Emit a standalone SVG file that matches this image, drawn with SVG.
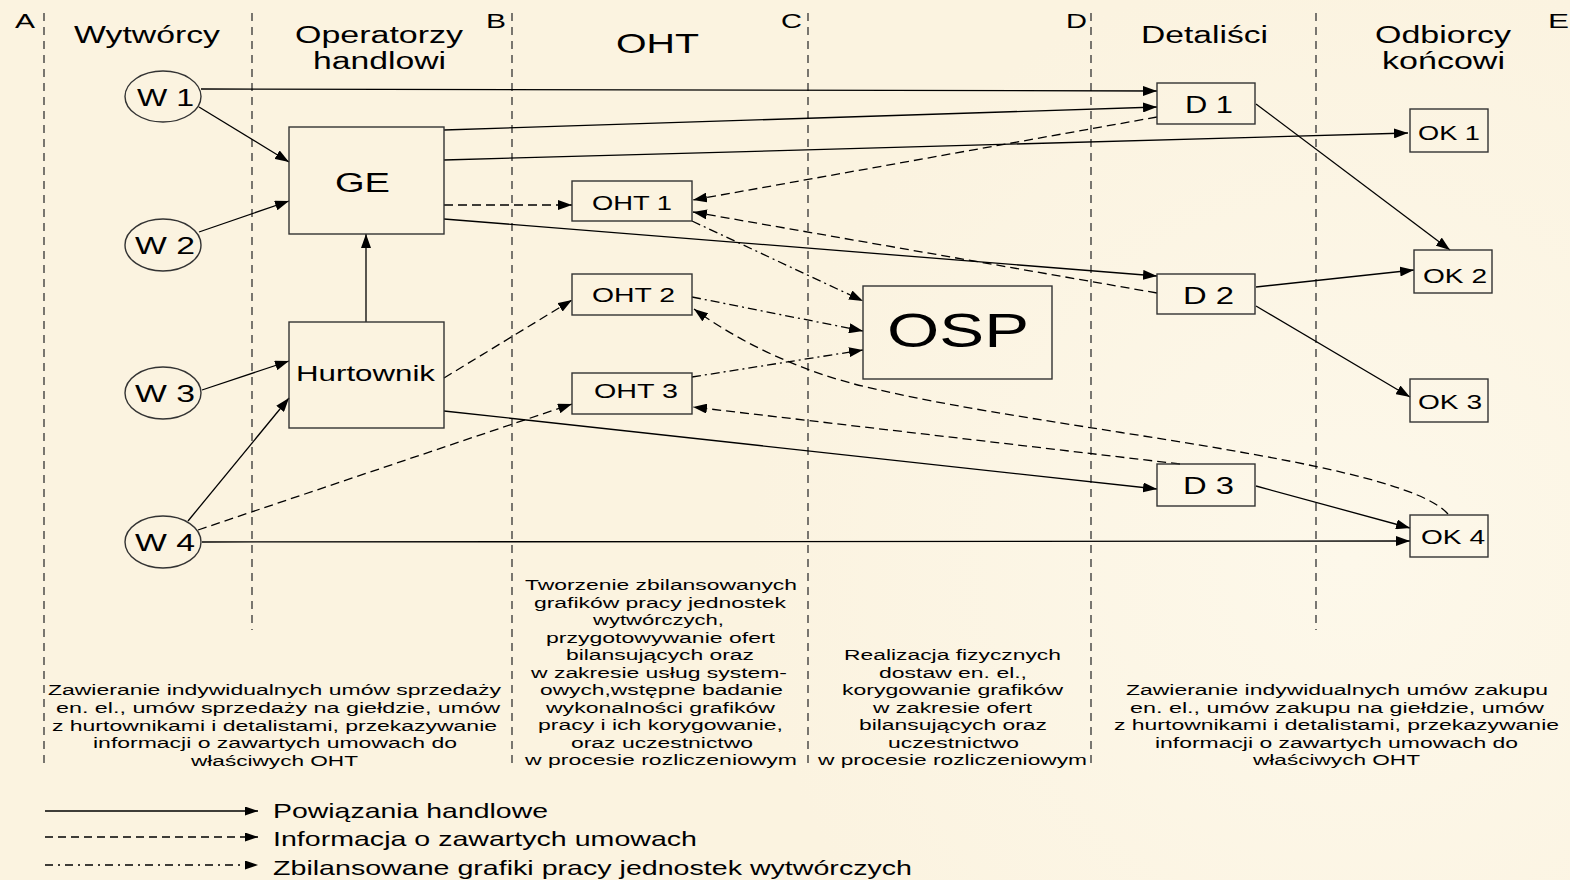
<svg xmlns="http://www.w3.org/2000/svg" width="1570" height="880" viewBox="0 0 1570 880">
<defs>
<radialGradient id="bg" cx="1350" cy="560" r="600" gradientUnits="userSpaceOnUse">
<stop offset="0" stop-color="#FDF8EA"/>
<stop offset="1" stop-color="#FBF3E0"/>
</radialGradient>
<marker id="ah" viewBox="0 0 14 10" refX="14" refY="5" markerWidth="14" markerHeight="10" markerUnits="userSpaceOnUse" orient="auto">
<path d="M0,0 L14,5 L0,10 z" fill="#000"/>
</marker>
<marker id="ahs" viewBox="0 0 13 9" refX="13" refY="4.5" markerWidth="13" markerHeight="9" markerUnits="userSpaceOnUse" orient="auto">
<path d="M0,0 L13,4.5 L0,9 z" fill="#000"/>
</marker>
</defs>
<style>
text{font-family:"Liberation Sans",Arial,sans-serif;fill:#000}
.div{stroke:#333;stroke-width:1.3;stroke-dasharray:8 6;fill:none}
.node{fill:none;stroke:#333;stroke-width:1.4}
.c{stroke:#000;stroke-width:1.3;fill:none;marker-end:url(#ah)}
.d{stroke-dasharray:9 5}
.dd{stroke-dasharray:9 4 2 4}
.hd{font-size:23px;text-anchor:middle}
.lt{font-size:21px}
.nl{text-anchor:middle}
.bt{font-size:15.5px;text-anchor:middle}
.lg{font-size:21px}
</style>
<rect x="0" y="0" width="1570" height="880" fill="url(#bg)"/>

<g id="dividers">
<line class="div" x1="44" y1="13" x2="44" y2="768"/>
<line class="div" x1="252" y1="13" x2="252" y2="630"/>
<line class="div" x1="512" y1="13" x2="512" y2="768"/>
<line class="div" x1="808" y1="13" x2="808" y2="768"/>
<line class="div" x1="1091" y1="13" x2="1091" y2="768"/>
<line class="div" x1="1316" y1="13" x2="1316" y2="630"/>
</g>

<g id="headers">
<text class="lt" x="15" y="28" textLength="20" lengthAdjust="spacingAndGlyphs">A</text>
<text class="hd" x="147" y="43" textLength="146" lengthAdjust="spacingAndGlyphs">Wytwórcy</text>
<text class="hd" x="379" y="43" textLength="168" lengthAdjust="spacingAndGlyphs">Operatorzy</text>
<text class="hd" x="379.5" y="69" textLength="133" lengthAdjust="spacingAndGlyphs">handlowi</text>
<text class="lt" x="486" y="28" textLength="20" lengthAdjust="spacingAndGlyphs">B</text>
<text class="hd" x="657.5" y="53" style="font-size:28px" textLength="83" lengthAdjust="spacingAndGlyphs">OHT</text>
<text class="lt" x="781" y="28" textLength="21" lengthAdjust="spacingAndGlyphs">C</text>
<text class="lt" x="1066" y="28" textLength="21" lengthAdjust="spacingAndGlyphs">D</text>
<text class="hd" x="1204.5" y="43" textLength="127" lengthAdjust="spacingAndGlyphs">Detaliści</text>
<text class="hd" x="1443" y="43" textLength="136" lengthAdjust="spacingAndGlyphs">Odbiorcy</text>
<text class="hd" x="1443.5" y="69" textLength="123" lengthAdjust="spacingAndGlyphs">końcowi</text>
<text class="lt" x="1548" y="28" textLength="21" lengthAdjust="spacingAndGlyphs">E</text>
</g>

<g id="connectors">
<path class="c" d="M201,89 L1157,91"/>
<path class="c" d="M199,107 L289,162"/>
<path class="c" d="M199,232 L289,201"/>
<path class="c" d="M202,390 L289,361"/>
<path class="c" d="M188,521 L289,398"/>
<path class="c" d="M202,542 L1410,541"/>
<path class="c" d="M366,322 L366,234"/>
<path class="c" d="M444,130 L1157,107"/>
<path class="c" d="M444,160 L1408,133"/>
<path class="c" d="M444,219 L1157,276"/>
<path class="c" d="M444,411 L1157,489"/>
<path class="c" d="M1256,104 L1450,250"/>
<path class="c" d="M1256,287 L1414,270"/>
<path class="c" d="M1256,306 L1410,397"/>
<path class="c" d="M1256,486 L1410,528"/>
<path class="c d" d="M444,205 L572,205"/>
<path class="c d" d="M1157,117 L693,200"/>
<path class="c d" d="M1157,293 L693,212"/>
<path class="c d" d="M444,378 L572,300"/>
<path class="c d" d="M198,530 L572,404"/>
<path class="c d" d="M1180,464 L693,407"/>
<path class="c d" d="M1448,514 C1400,460 1050,430 880,390 C820,378 750,350 694,309"/>
<path class="c dd" d="M692,221 L863,301"/>
<path class="c dd" d="M692,297 L863,331"/>
<path class="c dd" d="M692,377 L863,350"/>
</g>

<g id="W1"><ellipse class="node" cx="163" cy="96.5" rx="38" ry="25.5"/><text class="nl" x="165.5" y="106" font-size="24" textLength="57" lengthAdjust="spacingAndGlyphs">W 1</text></g>
<g id="W2"><ellipse class="node" cx="163" cy="245" rx="38" ry="26"/><text class="nl" x="165" y="254" font-size="24" textLength="60" lengthAdjust="spacingAndGlyphs">W 2</text></g>
<g id="W3"><ellipse class="node" cx="163" cy="393" rx="38" ry="26"/><text class="nl" x="165" y="402" font-size="24" textLength="60" lengthAdjust="spacingAndGlyphs">W 3</text></g>
<g id="W4"><ellipse class="node" cx="163" cy="542" rx="38" ry="26"/><text class="nl" x="165" y="551" font-size="24" textLength="60" lengthAdjust="spacingAndGlyphs">W 4</text></g>
<g id="GE"><rect class="node" x="289" y="127" width="155" height="107"/><text class="nl" x="362.5" y="192" font-size="27" textLength="55" lengthAdjust="spacingAndGlyphs">GE</text></g>
<g id="Hurtownik"><rect class="node" x="289" y="322" width="155" height="106"/><text class="nl" x="365.5" y="381" font-size="22.5" textLength="139" lengthAdjust="spacingAndGlyphs">Hurtownik</text></g>
<g id="OHT1"><rect class="node" x="572" y="181" width="120" height="40"/><text class="nl" x="632" y="210" font-size="19.5" textLength="80" lengthAdjust="spacingAndGlyphs">OHT 1</text></g>
<g id="OHT2"><rect class="node" x="572" y="274" width="120" height="41"/><text class="nl" x="633.5" y="302" font-size="19.5" textLength="83" lengthAdjust="spacingAndGlyphs">OHT 2</text></g>
<g id="OHT3"><rect class="node" x="572" y="373" width="120" height="41"/><text class="nl" x="636" y="398" font-size="19.5" textLength="84" lengthAdjust="spacingAndGlyphs">OHT 3</text></g>
<g id="OSP"><rect class="node" x="863" y="286" width="189" height="93"/><text class="nl" x="958" y="347" font-size="49" textLength="142" lengthAdjust="spacingAndGlyphs">OSP</text></g>
<g id="D1"><rect class="node" x="1157" y="83" width="98" height="41"/><text class="nl" x="1209" y="113" font-size="23" textLength="48" lengthAdjust="spacingAndGlyphs">D 1</text></g>
<g id="D2"><rect class="node" x="1157" y="274" width="98" height="40"/><text class="nl" x="1208.5" y="304" font-size="23" textLength="51" lengthAdjust="spacingAndGlyphs">D 2</text></g>
<g id="D3"><rect class="node" x="1157" y="464" width="98" height="42"/><text class="nl" x="1208.5" y="494" font-size="23" textLength="51" lengthAdjust="spacingAndGlyphs">D 3</text></g>
<g id="OK1"><rect class="node" x="1410" y="109" width="78" height="43"/><text class="nl" x="1449" y="140" font-size="19.5" textLength="62" lengthAdjust="spacingAndGlyphs">OK 1</text></g>
<g id="OK2"><rect class="node" x="1414" y="250" width="78" height="43"/><text class="nl" x="1455" y="283" font-size="19.5" textLength="64" lengthAdjust="spacingAndGlyphs">OK 2</text></g>
<g id="OK3"><rect class="node" x="1410" y="379" width="78" height="43"/><text class="nl" x="1450" y="409" font-size="19.5" textLength="64" lengthAdjust="spacingAndGlyphs">OK 3</text></g>
<g id="OK4"><rect class="node" x="1410" y="515" width="78" height="42"/><text class="nl" x="1453" y="544" font-size="19.5" textLength="64" lengthAdjust="spacingAndGlyphs">OK 4</text></g>

<g id="desc-A">
<text class="bt" x="274.5" y="695" textLength="453" lengthAdjust="spacingAndGlyphs">Zawieranie indywidualnych umów sprzedaży</text>
<text class="bt" x="278" y="713" textLength="444" lengthAdjust="spacingAndGlyphs">en. el., umów sprzedaży na giełdzie, umów</text>
<text class="bt" x="274.5" y="731" textLength="445" lengthAdjust="spacingAndGlyphs">z hurtownikami i detalistami, przekazywanie</text>
<text class="bt" x="275" y="748" textLength="364" lengthAdjust="spacingAndGlyphs">informacji o zawartych umowach do</text>
<text class="bt" x="274.5" y="766" textLength="167" lengthAdjust="spacingAndGlyphs">właściwych OHT</text>
</g>
<g id="desc-C">
<text class="bt" x="661" y="590" textLength="272" lengthAdjust="spacingAndGlyphs">Tworzenie zbilansowanych</text>
<text class="bt" x="660" y="607.5" textLength="252" lengthAdjust="spacingAndGlyphs">grafików pracy jednostek</text>
<text class="bt" x="658.5" y="625" textLength="131" lengthAdjust="spacingAndGlyphs">wytwórczych,</text>
<text class="bt" x="660.5" y="642.5" textLength="229" lengthAdjust="spacingAndGlyphs">przygotowywanie ofert</text>
<text class="bt" x="660" y="660" textLength="188" lengthAdjust="spacingAndGlyphs">bilansujących oraz</text>
<text class="bt" x="659" y="677.5" textLength="256" lengthAdjust="spacingAndGlyphs">w zakresie usług system-</text>
<text class="bt" x="661.5" y="695" textLength="243" lengthAdjust="spacingAndGlyphs">owych,wstępne badanie</text>
<text class="bt" x="660.5" y="712.5" textLength="229" lengthAdjust="spacingAndGlyphs">wykonalności grafików</text>
<text class="bt" x="660.5" y="730" textLength="245" lengthAdjust="spacingAndGlyphs">pracy i ich korygowanie,</text>
<text class="bt" x="662" y="747.5" textLength="182" lengthAdjust="spacingAndGlyphs">oraz uczestnictwo</text>
<text class="bt" x="661" y="765" textLength="272" lengthAdjust="spacingAndGlyphs">w procesie rozliczeniowym</text>
</g>
<g id="desc-D">
<text class="bt" x="952.5" y="660" textLength="217" lengthAdjust="spacingAndGlyphs">Realizacja fizycznych</text>
<text class="bt" x="953" y="677.5" textLength="148" lengthAdjust="spacingAndGlyphs">dostaw en. el.,</text>
<text class="bt" x="952.5" y="695" textLength="221" lengthAdjust="spacingAndGlyphs">korygowanie grafików</text>
<text class="bt" x="952.5" y="712.5" textLength="159" lengthAdjust="spacingAndGlyphs">w zakresie ofert</text>
<text class="bt" x="953" y="730" textLength="188" lengthAdjust="spacingAndGlyphs">bilansujących oraz</text>
<text class="bt" x="953.5" y="747.5" textLength="131" lengthAdjust="spacingAndGlyphs">uczestnictwo</text>
<text class="bt" x="952.5" y="765" textLength="269" lengthAdjust="spacingAndGlyphs">w procesie rozliczeniowym</text>
</g>
<g id="desc-E">
<text class="bt" x="1337" y="695" textLength="422" lengthAdjust="spacingAndGlyphs">Zawieranie indywidualnych umów zakupu</text>
<text class="bt" x="1337" y="713" textLength="414" lengthAdjust="spacingAndGlyphs">en. el., umów zakupu na giełdzie, umów</text>
<text class="bt" x="1336.5" y="730" textLength="445" lengthAdjust="spacingAndGlyphs">z hurtownikami i detalistami, przekazywanie</text>
<text class="bt" x="1336.5" y="748" textLength="363" lengthAdjust="spacingAndGlyphs">informacji o zawartych umowach do</text>
<text class="bt" x="1336.5" y="765" textLength="167" lengthAdjust="spacingAndGlyphs">właściwych OHT</text>
</g>

<g id="legend">
<path d="M45,811 L258,811" stroke="#000" stroke-width="1.3" fill="none" marker-end="url(#ahs)"/>
<path d="M45,837 L258,837" stroke="#000" stroke-width="1.3" fill="none" stroke-dasharray="8 5" marker-end="url(#ahs)"/>
<path d="M45,865 L258,865" stroke="#000" stroke-width="1.3" fill="none" stroke-dasharray="8 5 2 5" marker-end="url(#ahs)"/>
<text class="lg" x="273" y="818" textLength="275" lengthAdjust="spacingAndGlyphs">Powiązania handlowe</text>
<text class="lg" x="273" y="846" textLength="424" lengthAdjust="spacingAndGlyphs">Informacja o zawartych umowach</text>
<text class="lg" x="273" y="875" textLength="639" lengthAdjust="spacingAndGlyphs">Zbilansowane grafiki pracy jednostek wytwórczych</text>
</g>
</svg>
